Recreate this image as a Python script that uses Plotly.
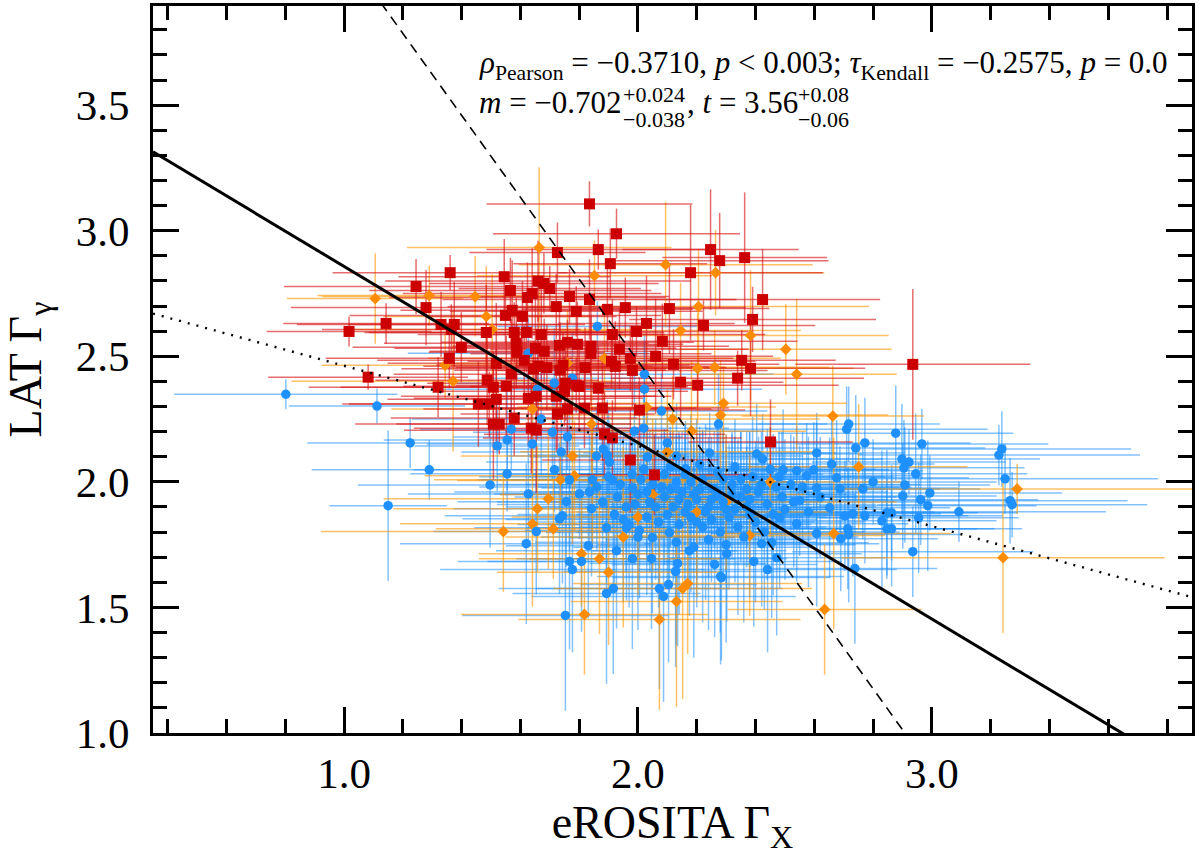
import plotly.graph_objects as go

# ---------------- data ----------------
red_x = [1.835,1.927,1.726,1.865,1.906,1.361,1.245,1.545,1.566,1.66,
         1.68,1.64,1.70,1.624,1.767,1.835,1.722,1.790,1.896,1.957,
         1.279,1.572,1.549,1.607,1.143,1.017,1.330,1.375,1.365,1.484,
         1.579,1.620,1.671,1.399,1.586,1.588,1.651,1.681,1.733,1.760,
         1.794,1.84,1.84,1.913,1.995,2.029,1.937,1.974,2.06,1.910,
         1.923,1.981,1.358,1.518,1.613,1.66,1.645,1.69,1.745,1.735,
         1.82,1.569,1.082,1.320,1.487,1.508,1.552,1.753,1.790,1.865,
         2.247,2.278,2.363,2.179,2.424,2.107,2.390,2.223,2.083,2.353,
         2.121,2.383,2.339,2.145,2.203,2.935,1.457,1.494,1.518,1.579,
         1.508,1.528,1.637,1.654,1.726,1.760,1.818,1.879,2.005,1.886,
         1.913,1.627,1.654,1.722,1.750,1.80,1.974,2.056,2.451]
red_y = [3.107,2.988,2.913,2.925,2.869,2.833,2.778,2.817,2.762,2.80,
         2.79,2.75,2.77,2.734,2.738,2.726,2.698,2.679,2.687,2.694,
         2.694,2.683,2.663,2.659,2.631,2.599,2.627,2.627,2.607,2.595,
         2.595,2.595,2.587,2.536,2.552,2.516,2.532,2.520,2.544,2.556,
         2.548,2.54,2.51,2.587,2.599,2.631,2.528,2.492,2.50,2.480,
         2.460,2.444,2.492,2.472,2.484,2.46,2.45,2.455,2.465,2.445,
         2.455,2.429,2.417,2.377,2.405,2.377,2.381,2.393,2.385,2.373,
         2.925,2.881,2.893,2.833,2.726,2.690,2.647,2.623,2.560,2.484,
         2.468,2.452,2.413,2.397,2.385,2.468,2.310,2.310,2.329,2.254,
         2.230,2.230,2.214,2.206,2.270,2.290,2.294,2.294,2.286,2.190,
         2.175,2.333,2.341,2.341,2.361,2.38,2.087,2.028,2.159]
red_xerr = [0.35,0.42,0.30,0.38,0.33,0.40,0.45,0.36,0.48,0.52,
            0.39,0.44,0.31,0.47,0.34,0.50,0.37,0.43,0.29,0.41,
            0.46,0.38,0.53,0.32,0.35,0.28,0.49,0.36,0.44,0.40,
            0.51,0.33,0.42,0.37,0.45,0.30,0.48,0.39,0.34,0.43,
            0.36,0.47,0.41,0.52,0.38,0.30,0.44,0.35,0.40,0.49,
            0.33,0.46,0.42,0.37,0.50,0.39,0.45,0.31,0.43,0.36,
            0.48,0.40,0.34,0.44,0.38,0.52,0.35,0.47,0.41,0.33,
            0.30,0.37,0.28,0.45,0.40,0.34,0.42,0.38,0.46,0.32,
            0.36,0.39,0.43,0.35,0.48,0.40,0.44,0.50,0.37,0.42,
            0.47,0.35,0.40,0.45,0.33,0.49,0.38,0.43,0.36,0.41,
            0.44,0.39,0.46,0.34,0.42,0.37,0.30,0.33,0.28]
red_yerr = [0.09,0.10,0.12,0.08,0.14,0.07,0.11,0.15,0.13,0.16,
            0.12,0.18,0.09,0.14,0.11,0.16,0.13,0.10,0.17,0.12,
            0.15,0.20,0.11,0.14,0.08,0.06,0.13,0.17,0.10,0.19,
            0.12,0.16,0.22,0.14,0.18,0.11,0.20,0.13,0.15,0.09,
            0.17,0.12,0.21,0.14,0.10,0.19,0.16,0.13,0.23,0.11,
            0.18,0.15,0.12,0.24,0.14,0.20,0.11,0.17,0.13,0.19,
            0.16,0.22,0.05,0.12,0.18,0.14,0.20,0.15,0.11,0.17,
            0.24,0.19,0.26,0.27,0.20,0.18,0.13,0.10,0.15,0.12,
            0.14,0.19,0.11,0.16,0.09,0.30,0.17,0.13,0.20,0.15,
            0.22,0.12,0.18,0.25,0.14,0.19,0.16,0.21,0.13,0.17,
            0.15,0.19,0.12,0.22,0.14,0.18,0.21,0.16,0.17]

orange_x = [1.664,1.852,1.106,1.290,1.446,1.484,1.504,1.344,1.371,1.886,
            1.760,2.094,2.264,2.206,2.145,2.383,2.503,2.203,2.261,2.540,
            1.542,1.641,1.712,1.695,1.658,1.736,1.784,1.777,1.845,1.808,
            1.869,1.641,1.842,2.029,2.118,2.182,2.291,2.281,2.663,2.751,
            2.380,2.666,3.290,3.242,1.818,2.073,2.131,2.152,2.169,2.635,
            2.05,2.20,2.30,1.95,2.45,2.10,2.00,1.90]
orange_y = [2.933,2.821,2.730,2.742,2.738,2.659,2.607,2.464,2.401,2.492,
            2.472,2.865,2.833,2.698,2.603,2.583,2.528,2.452,2.456,2.429,
            1.802,1.833,1.813,1.933,1.893,2.008,2.024,2.103,2.005,1.714,
            1.694,2.290,2.230,2.298,2.250,2.202,2.313,2.266,2.262,2.060,
            1.786,1.794,1.972,1.698,1.472,1.452,1.524,1.575,1.595,1.492,
            1.95,1.88,1.92,1.78,2.00,2.12,1.86,1.64]
orange_xerr = [0.45,0.40,0.30,0.38,0.52,0.35,0.48,0.42,0.55,0.60,
               0.44,0.50,0.37,0.58,0.41,0.47,0.36,0.53,0.39,0.34,
               0.62,0.45,0.40,0.56,0.49,0.43,0.51,0.38,0.46,0.35,
               0.41,0.48,0.36,0.44,0.50,0.39,0.42,0.57,0.31,0.37,
               0.46,0.40,0.62,0.55,0.42,0.48,0.36,0.44,0.39,0.33,
               0.52,0.45,0.58,0.40,0.47,0.50,0.43,0.38]
orange_yerr = [0.32,0.14,0.18,0.12,0.16,0.20,0.22,0.13,0.28,0.19,
               0.21,0.25,0.17,0.23,0.19,0.26,0.18,0.22,0.15,0.30,
               0.24,0.33,0.20,0.28,0.25,0.18,0.22,0.35,0.27,0.21,
               0.30,0.26,0.19,0.24,0.17,0.28,0.15,0.22,0.20,0.25,
               0.32,0.38,0.10,0.30,0.24,0.36,0.42,0.44,0.28,0.26,
               0.30,0.34,0.27,0.36,0.22,0.25,0.31,0.29]

blue_x = [0.802,1.112,1.150,1.225,1.290,1.497,1.555,1.521,1.555,1.641,
          1.569,1.671,1.709,1.760,1.739,1.716,1.767,1.627,1.756,1.801,
          1.835,1.733,1.743,1.654,1.620,1.831,1.767,1.808,1.777,1.882,
          1.859,1.903,1.896,1.845,1.913,1.842,1.981,2.032,2.080,1.988,
          2.019,2.100,2.131,2.162,1.927,1.981,2.046,2.135,2.128,2.175,
          2.107,2.049,2.005,1.893,1.961,2.274,2.710,2.717,2.877,2.966,
          2.772,2.741,2.608,2.898,2.922,2.905,2.945,2.659,2.80,2.908,
          2.993,2.901,2.962,2.986,3.092,2.955,2.863,2.847,2.830,2.847,
          2.863,2.935,2.738,2.714,2.717,2.690,2.772,2.731,2.704,2.608,
          2.765,2.687,2.676,2.598,2.574,2.540,2.494,2.608,2.550,2.652,
          2.472,2.441,2.394,2.281,2.261,2.302,2.455,2.421,2.540,2.482,
          2.244,2.404,2.424,3.238,3.228,3.249,3.266,3.273,1.753,1.893,
          1.916,2.073,2.104,2.087,2.284,1.862,1.627,1.777,2.022,1.658,
          1.715,2.022,2.00,2.04,2.08,2.12,2.15,2.18,2.20,2.23,
          2.26,2.29,2.32,2.35,2.38,2.41,2.44,2.47,2.50,2.03,
          2.07,2.10,2.14,2.18,2.22,2.25,2.28,2.31,2.34,2.37,
          2.40,1.96,1.93,1.98,2.02,2.06,2.11,2.16,2.21,2.27,
          2.33,2.39,2.45,1.95,2.00,2.13,2.19,2.24,2.30,2.36,
          2.43,2.09,2.17,2.25,2.33,2.21,2.13,2.05,2.29,2.37,
          2.49,2.52,1.86,1.88,1.90,1.92,1.94,1.97,1.99,2.01,
          2.03,2.06,2.09,2.11,2.14,2.16,2.19,2.22,2.24,2.27,
          2.30,2.32,2.35,2.38,2.42,2.46,2.48,2.53,2.56,2.58,
          2.62,2.20]
blue_y = [2.349,2.302,1.905,2.155,2.048,1.988,2.032,2.143,2.167,2.151,
          2.210,2.250,2.198,2.179,2.119,2.048,2.008,1.952,1.921,1.952,
          1.960,1.853,1.865,1.802,1.754,1.746,1.683,1.683,1.651,2.131,
          2.103,2.079,2.107,2.008,2.008,1.893,1.976,2.099,2.282,2.202,
          2.214,2.155,2.103,2.052,1.726,1.694,1.694,1.675,1.643,1.726,
          1.798,1.778,1.806,1.817,1.817,2.230,2.210,2.230,2.194,2.151,
          2.155,2.135,2.115,2.091,2.079,2.056,2.032,2.071,2.00,1.988,
          1.956,1.944,1.929,1.905,1.881,1.857,1.877,1.877,1.845,1.813,
          1.813,1.722,1.655,1.813,1.790,1.774,1.865,1.873,1.865,1.794,
          1.972,1.972,2.016,2.048,2.024,2.044,2.048,1.976,1.925,1.897,
          1.698,1.651,1.683,1.623,1.671,1.714,1.758,1.754,1.833,1.857,
          2.115,2.111,2.091,2.131,2.107,2.012,1.925,1.909,1.468,1.556,
          1.575,1.575,1.591,1.544,1.619,2.619,2.512,2.413,2.429,2.369,
          2.393,2.369,1.95,1.92,1.98,1.90,1.96,2.00,1.93,1.88,
          1.97,1.92,1.99,1.94,1.87,1.96,1.91,1.98,1.89,1.86,
          1.84,1.87,1.83,1.86,1.82,1.85,1.80,1.86,1.82,1.90,
          1.84,1.90,1.94,2.03,2.05,2.02,2.06,2.03,2.07,2.04,
          2.06,2.02,2.05,1.85,1.78,1.76,1.74,1.77,1.75,1.78,
          1.80,1.94,1.91,1.93,1.89,1.97,2.00,1.99,2.01,1.97,
          1.94,1.99,1.98,1.92,2.02,1.87,1.99,1.83,1.91,2.01,
          1.96,1.90,2.03,1.97,1.93,1.88,1.95,2.01,1.90,1.95,
          1.89,1.95,2.01,1.93,1.99,1.87,2.02,1.92,1.98,1.88,
          1.94,1.84]
blue_xerr = [0.38,0.30,0.20,0.35,0.40,0.45,0.33,0.28,0.42,0.36,
             0.31,0.44,0.27,0.39,0.34,0.48,0.30,0.41,0.37,0.29,
             0.46,0.33,0.40,0.35,0.43,0.28,0.38,0.32,0.45,0.36,
             0.30,0.42,0.27,0.39,0.34,0.47,0.31,0.40,0.36,0.44,
             0.29,0.37,0.43,0.32,0.41,0.35,0.46,0.30,0.38,0.33,
             0.42,0.28,0.39,0.45,0.34,0.37,0.48,0.31,0.40,0.43,
             0.36,0.44,0.30,0.47,0.33,0.41,0.38,0.35,0.42,0.29,
             0.45,0.32,0.40,0.37,0.50,0.34,0.43,0.31,0.39,0.46,
             0.35,0.41,0.28,0.44,0.38,0.33,0.47,0.30,0.42,0.36,
             0.40,0.34,0.45,0.31,0.39,0.43,0.36,0.48,0.32,0.41,
             0.37,0.44,0.30,0.42,0.35,0.46,0.33,0.40,0.38,0.29,
             0.43,0.36,0.41,0.44,0.48,0.52,0.40,0.46,0.35,0.32,
             0.39,0.42,0.30,0.45,0.37,0.34,0.41,0.28,0.44,0.36,
             0.33,0.40,0.47,0.35,0.42,0.30,0.45,0.38,0.43,0.36,
             0.41,0.34,0.48,0.39,0.32,0.44,0.37,0.46,0.35,0.40,
             0.43,0.31,0.45,0.38,0.42,0.36,0.49,0.33,0.40,0.44,
             0.37,0.41,0.35,0.46,0.30,0.43,0.39,0.47,0.34,0.42,
             0.38,0.45,0.36,0.40,0.33,0.48,0.41,0.35,0.44,0.39,
             0.46,0.32,0.42,0.37,0.45,0.34,0.40,0.43,0.36,0.47,
             0.39,0.44,0.40,0.36,0.44,0.33,0.42,0.38,0.47,0.35,
             0.41,0.39,0.45,0.32,0.43,0.37,0.46,0.34,0.40,0.44,
             0.36,0.42,0.38,0.47,0.35,0.41,0.39,0.45,0.33,0.43,
             0.37,0.40]
blue_yerr = [0.06,0.07,0.30,0.10,0.12,0.25,0.15,0.18,0.20,0.14,
             0.16,0.22,0.19,0.13,0.24,0.17,0.28,0.21,0.26,0.18,
             0.23,0.30,0.27,0.25,0.32,0.29,0.35,0.28,0.33,0.12,
             0.20,0.16,0.22,0.25,0.19,0.27,0.21,0.18,0.15,0.24,
             0.17,0.14,0.21,0.19,0.31,0.36,0.28,0.33,0.38,0.26,
             0.24,0.30,0.27,0.22,0.29,0.20,0.17,0.15,0.19,0.14,
             0.18,0.21,0.16,0.22,0.13,0.19,0.24,0.20,0.17,0.23,
             0.15,0.21,0.18,0.26,0.12,0.22,0.19,0.25,0.28,0.20,
             0.23,0.18,0.30,0.24,0.27,0.21,0.19,0.25,0.22,0.29,
             0.20,0.17,0.23,0.19,0.21,0.18,0.24,0.26,0.22,0.28,
             0.31,0.33,0.26,0.35,0.29,0.27,0.30,0.25,0.23,0.28,
             0.16,0.20,0.18,0.15,0.12,0.14,0.17,0.13,0.38,0.36,
             0.34,0.40,0.31,0.42,0.33,0.10,0.14,0.18,0.16,0.20,
             0.22,0.19,0.25,0.28,0.21,0.30,0.24,0.27,0.32,0.35,
             0.23,0.29,0.20,0.26,0.33,0.22,0.30,0.19,0.28,0.31,
             0.34,0.27,0.36,0.30,0.38,0.25,0.40,0.29,0.35,0.24,
             0.32,0.26,0.21,0.18,0.17,0.23,0.16,0.20,0.15,0.22,
             0.19,0.24,0.17,0.33,0.37,0.41,0.44,0.36,0.39,0.34,
             0.31,0.27,0.30,0.25,0.29,0.22,0.19,0.21,0.18,0.23,
             0.26,0.20,0.25,0.22,0.28,0.30,0.20,0.33,0.24,0.19,
             0.26,0.29,0.18,0.23,0.27,0.31,0.22,0.20,0.28,0.24,
             0.30,0.25,0.19,0.27,0.21,0.32,0.18,0.26,0.22,0.30,
             0.24,0.34]

# fit lines: y = slope * x + intercept
line_names = ["solid", "dashed", "dotted"]
line_slopes = [-0.702, -1.631, -0.3195]
line_intercepts = [3.56, 5.743, 2.782]

x_range = [0.35, 3.885]
y_range = [1.0, 3.895]

# statistics text pieces
stats_line1 = ("<i>ρ</i><sub>Pearson</sub> = −0.3710, <i>p</i> &lt; 0.003; "
               "<i>τ</i><sub>Kendall</sub> = −0.2575, <i>p</i> = 0.0")
fit_main = ["<i>m</i> = −0.702", ", <i>t</i> = 3.56"]
fit_sup = ["+0.024", "+0.08"]
fit_sub = ["−0.038", "−0.06"]

FONT = "Liberation Serif"
ANN_SIZE = 31
SCRIPT_SIZE = 22

fig = go.Figure()

series = [
    ("blue", blue_x, blue_y, blue_xerr, blue_yerr),
    ("orange", orange_x, orange_y, orange_xerr, orange_yerr),
    ("red", red_x, red_y, red_xerr, red_yerr),
]
err_colors = {"blue": "rgba(30,144,255,0.55)", "orange": "rgba(255,150,0,0.6)",
              "red": "rgba(215,20,20,0.62)"}
for name, xs, ys, xe, ye in series:
    assert len(xs) == len(ys) == len(xe) == len(ye), name
    fig.add_trace(go.Scatter(
        x=xs, y=ys, mode="markers",
        marker=dict(size=1, color="rgba(0,0,0,0)"),
        error_x=dict(type="data", array=xe, symmetric=True, color=err_colors[name], thickness=1.5, width=0),
        error_y=dict(type="data", array=ye, symmetric=True, color=err_colors[name], thickness=1.5, width=0),
        hoverinfo="skip", showlegend=False))

marker_styles = {
    "orange": dict(symbol="diamond", size=9, color="#FF8C00"),
    "blue": dict(symbol="circle", size=9.5, color="#1E90FF"),
    "red": dict(symbol="square", size=11, color="#CC0000"),
}
for name in ["orange", "blue", "red"]:
    _, xs, ys, _, _ = [s for s in series if s[0] == name][0]
    fig.add_trace(go.Scatter(x=xs, y=ys, mode="markers",
                             marker=dict(line=dict(width=0), **marker_styles[name]),
                             showlegend=False))

line_styles = {
    "solid": dict(color="black", width=3),
    "dashed": dict(color="black", width=1.6, dash="10px,7px"),
    "dotted": dict(color="black", width=2.4, dash="2px,7px"),
}
for nm, m, t in zip(line_names, line_slopes, line_intercepts):
    xs = [x_range[0], x_range[1]]
    ys = [m * xv + t for xv in xs]
    fig.add_trace(go.Scatter(x=xs, y=ys, mode="lines", line=line_styles[nm],
                             showlegend=False, hoverinfo="skip"))

axis_common = dict(
    showgrid=False, zeroline=False, showline=True, linewidth=3, linecolor="black",
    mirror="ticks", ticks="inside", tickcolor="black", tickwidth=2.5, ticklen=26,
    tickfont=dict(family=FONT, size=43, color="black"),
)
fig.update_xaxes(range=x_range, dtick=1, tick0=0, tickformat=".1f",
                 minor=dict(ticks="inside", dtick=0.2, tick0=0, ticklen=14, tickwidth=2.5, tickcolor="black"),
                 title=dict(text="eROSITA Γ<sub>X</sub>", font=dict(family=FONT, size=46, color="black"), standoff=12),
                 ticklabelstandoff=0, **axis_common)
fig.update_yaxes(range=y_range, dtick=0.5, tick0=0, tickformat=".1f",
                 minor=dict(ticks="inside", dtick=0.1, tick0=0, ticklen=14, tickwidth=2.5, tickcolor="black"),
                 title=dict(text="LAT Γ<sub>γ</sub>", font=dict(family=FONT, size=46, color="black"), standoff=20),
                 ticklabelstandoff=12, **axis_common)

ann_font = dict(family=FONT, size=ANN_SIZE, color="black")
scr_font = dict(family=FONT, size=SCRIPT_SIZE, color="black")
x0 = 1.453
fig.add_annotation(x=x0, y=3.66, xref="x", yref="y", xanchor="left", yanchor="middle",
                   showarrow=False, text=stats_line1, font=ann_font)
# second line: main text pieces with stacked super/subscripts
y2 = 3.51
main_shift = [0, 208]
script_shift = [144, 319]
for i in range(2):
    fig.add_annotation(x=x0, y=y2, xref="x", yref="y", xanchor="left", yanchor="middle",
                       showarrow=False, text=fit_main[i], font=ann_font, xshift=main_shift[i])
    fig.add_annotation(x=x0, y=y2, xref="x", yref="y", xanchor="left", yanchor="middle",
                       showarrow=False, text=fit_sup[i], font=scr_font,
                       xshift=script_shift[i], yshift=8)
    fig.add_annotation(x=x0, y=y2, xref="x", yref="y", xanchor="left", yanchor="middle",
                       showarrow=False, text=fit_sub[i], font=scr_font,
                       xshift=script_shift[i], yshift=-17)

fig.update_layout(width=1200, height=855, margin=dict(l=153, r=8, t=3, b=122),
                  plot_bgcolor="white", paper_bgcolor="white",
                  font=dict(family=FONT, color="black"), showlegend=False)

fig.write_html("out.html")
